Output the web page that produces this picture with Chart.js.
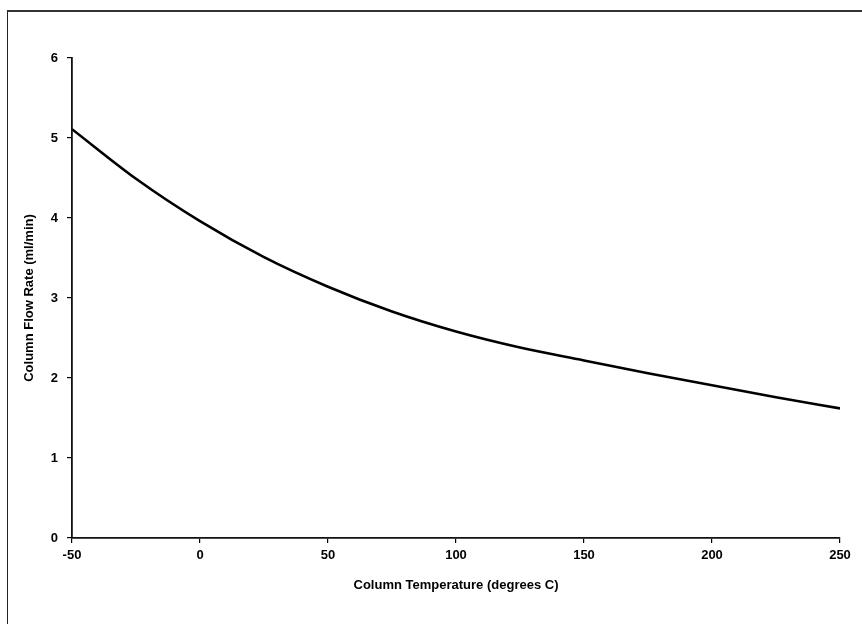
<!DOCTYPE html>
<html>
<head>
<meta charset="utf-8">
<script src="https://cdn.jsdelivr.net/npm/chart.js@4"></script>
<style>
    html, body { margin: 0; padding: 0; background: #fff; }
    #wrap { position: relative; width: 862px; height: 624px; overflow: hidden; }
    #frame {
        position: absolute; left: 7px; top: 10px; right: -4px; bottom: -4px;
        border-left: 1.5px solid #222; border-top: 2px solid #333;
        pointer-events: none;
    }
</style>
</head>
<body>
<div id="wrap">
    <canvas id="flowChart" width="862" height="624"></canvas>
    <div id="frame"></div>
</div>
<script>
// Column flow rate vs column temperature
const temperatures = [-50, -25, 0, 25, 50, 75, 100, 125, 150, 175, 200, 225, 250];
const flowRates = [5.11, 4.49, 3.96, 3.51, 3.14, 2.83, 2.58, 2.38, 2.22, 2.06, 1.91, 1.76, 1.62];
const xTicks = [-50, 0, 50, 100, 150, 200, 250];
const yTicks = [0, 1, 2, 3, 4, 5, 6];

const tickFont = { family: "'Liberation Sans', Arial, sans-serif", size: 13, weight: 'bold' };
const titleFont = { family: "'Liberation Sans', Arial, sans-serif", size: 13, weight: 'bold' };

const ctx = document.getElementById('flowChart').getContext('2d');
new Chart(ctx, {
    type: 'line',
    data: {
        datasets: [{
            data: temperatures.map(function(t, i) { return { x: t, y: flowRates[i] }; }),
            borderColor: '#000',
            borderWidth: 2.6,
            pointRadius: 0,
            fill: false,
            cubicInterpolationMode: 'monotone'
        }]
    },
    options: {
        responsive: false,
        animation: false,
        layout: {
            padding: { left: 0, right: 22, top: 58, bottom: 0 }
        },
        plugins: {
            legend: { display: false },
            tooltip: { enabled: false }
        },
        scales: {
            x: {
                type: 'linear',
                min: -50,
                max: 250,
                afterBuildTicks: function(scale) {
                    scale.ticks = xTicks.map(function(v) { return { value: v }; });
                },
                afterFit: function(scale) { scale.height = 86; },
                grid: {
                    drawOnChartArea: false,
                    drawTicks: true,
                    tickLength: 5,
                    color: '#000',
                    lineWidth: 1.2
                },
                border: { display: true, color: '#111', width: 1.8 },
                ticks: {
                    font: tickFont,
                    color: '#000',
                    padding: 5,
                    maxRotation: 0,
                    autoSkip: false,
                    callback: function(value) { return String(value); }
                },
                title: {
                    display: true,
                    text: 'Column Temperature (degrees C)',
                    font: titleFont,
                    color: '#000',
                    padding: { top: 0, bottom: 31 }
                }
            },
            y: {
                min: 0,
                max: 6,
                afterBuildTicks: function(scale) {
                    scale.ticks = yTicks.map(function(v) { return { value: v }; });
                },
                afterFit: function(scale) { scale.width = 72; },
                grid: {
                    drawOnChartArea: false,
                    drawTicks: true,
                    tickLength: 5,
                    color: '#000',
                    lineWidth: 1.2
                },
                border: { display: true, color: '#111', width: 1.8 },
                ticks: {
                    font: tickFont,
                    color: '#000',
                    padding: 9
                },
                title: {
                    display: true,
                    text: 'Column Flow Rate (ml/min)',
                    font: titleFont,
                    color: '#000',
                    padding: { top: 22, bottom: 0 }
                }
            }
        }
    }
});
</script>
</body>
</html>
